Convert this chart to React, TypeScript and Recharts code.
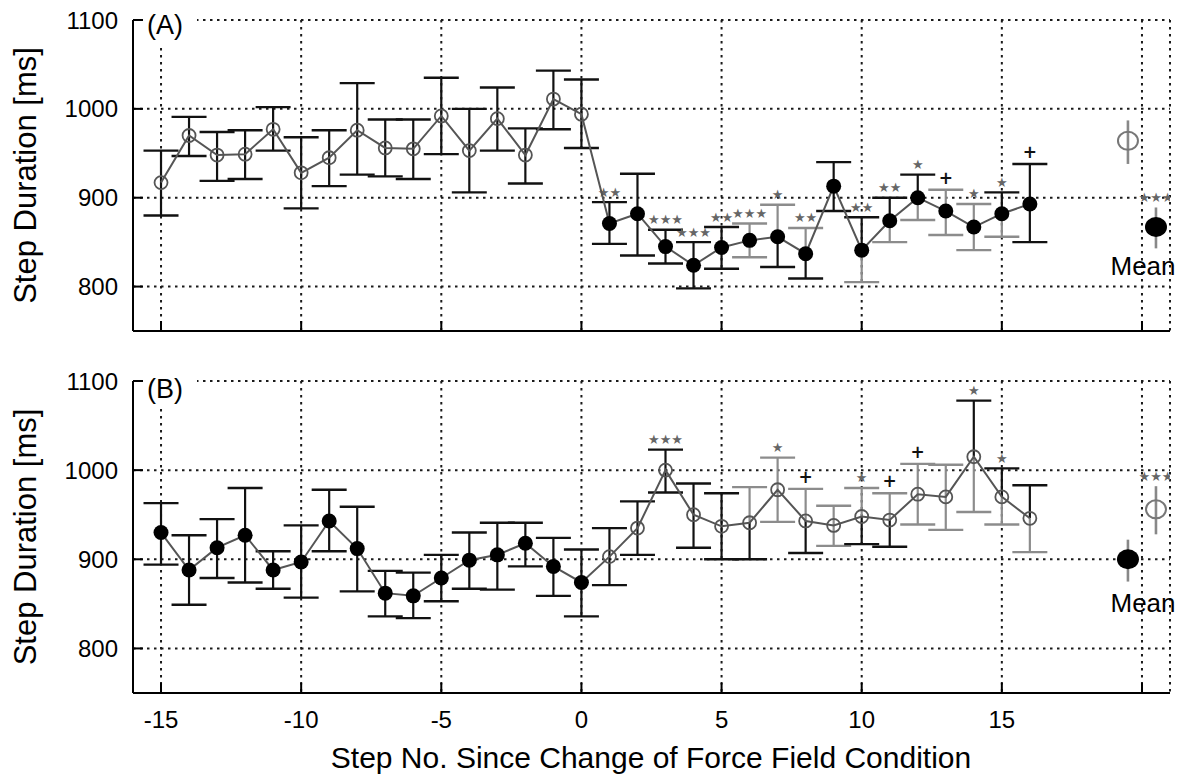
import React from 'react';
import { ComposedChart, Line, Bar, Scatter, XAxis, YAxis, CartesianGrid, Customized } from 'recharts';

// ---------- data ----------
const steps = [-15, -14, -13, -12, -11, -10, -9, -8, -7, -6, -5, -4, -3, -2, -1, 0, 1, 2, 3, 4, 5, 6, 7, 8, 9, 10, 11, 12, 13, 14, 15, 16];
const meanX = [19.5, 20.5];
const xTicks = [-15, -10, -5, 0, 5, 10, 15, 20];
const yTicks = [800, 900, 1000, 1100];

// Panel A
const valuesA = [917, 970, 948, 949, 977, 928, 945, 976, 956, 955, 992, 953, 989, 948, 1011, 994, 871, 882, 845, 824, 844, 852, 856, 837, 913, 841, 874, 900, 885, 867, 882, 893];
const upperA = [953, 991, 974, 976, 1002, 968, 976, 1029, 988, 988, 1035, 1000, 1024, 978, 1043, 1033, 895, 927, 864, 850, 867, 871, 892, 866, 940, 878, 900, 926, 909, 893, 906, 938];
const lowerA = [880, 947, 919, 921, 953, 888, 913, 926, 924, 921, 949, 906, 953, 916, 977, 956, 848, 835, 826, 798, 820, 833, 822, 809, 885, 805, 850, 875, 858, 841, 856, 850];
const sigA = ['', '', '', '', '', '', '', '', '', '', '', '', '', '', '', '', '**', '', '***', '***', '**', '***', '*', '**', '', '**', '**', '*', '+', '*', '*', '+'];
const upToneA = ['k', 'k', 'k', 'k', 'k', 'k', 'k', 'k', 'k', 'k', 'k', 'k', 'k', 'k', 'k', 'k', 'k', 'k', 'k', 'k', 'k', 'g', 'g', 'g', 'k', 'k', 'k', 'k', 'g', 'g', 'k', 'k'];
const loToneA = ['k', 'k', 'k', 'k', 'k', 'k', 'k', 'k', 'k', 'k', 'k', 'k', 'k', 'k', 'k', 'k', 'k', 'k', 'k', 'k', 'k', 'g', 'k', 'k', 'k', 'g', 'g', 'g', 'g', 'g', 'g', 'k'];
const meanValuesA = [964, 867];
const meanUpperA = [987, 889];
const meanLowerA = [938, 843];
const meanFilledA = [false, true];
const meanSigA = ['', '***'];

// Panel B
const valuesB = [930, 888, 913, 927, 888, 897, 943, 912, 862, 859, 879, 899, 905, 918, 892, 874, 903, 935, 1000, 950, 937, 941, 978, 943, 938, 948, 944, 973, 970, 1015, 970, 946];
const upperB = [963, 927, 945, 980, 909, 938, 978, 959, 887, 885, 905, 930, 941, 941, 924, 911, 935, 965, 1023, 985, 974, 981, 1014, 979, 960, 980, 974, 1007, 1006, 1078, 1002, 983];
const lowerB = [894, 849, 879, 874, 867, 857, 909, 864, 836, 834, 853, 867, 866, 892, 859, 836, 871, 905, 975, 913, 900, 900, 942, 907, 915, 917, 914, 939, 933, 953, 939, 908];
const sigB = ['', '', '', '', '', '', '', '', '', '', '', '', '', '', '', '', '', '', '***', '', '', '', '*', '+', '', '*', '+', '+', '', '*', '*', ''];
const upToneB = ['k', 'k', 'k', 'k', 'k', 'k', 'k', 'k', 'k', 'k', 'k', 'k', 'k', 'k', 'k', 'k', 'k', 'k', 'k', 'k', 'k', 'g', 'g', 'g', 'g', 'g', 'g', 'g', 'g', 'k', 'k', 'k'];
const loToneB = ['k', 'k', 'k', 'k', 'k', 'k', 'k', 'k', 'k', 'k', 'k', 'k', 'k', 'k', 'k', 'k', 'k', 'k', 'k', 'k', 'k', 'k', 'g', 'k', 'g', 'k', 'k', 'g', 'g', 'g', 'g', 'g'];
const meanValuesB = [900, 956];
const meanUpperB = [922, 982];
const meanLowerB = [875, 928];
const meanFilledB = [true, false];
const meanSigB = ['', '***'];

// condition: filled markers = force field condition
const filledA = steps.map((s) => s >= 1);
const filledB = steps.map((s) => s <= 0);

type Row = {
  x: number; v: number; line?: number; hi: number; lo: number;
  filled: boolean; sig: string; up: string; dn: string; mean: boolean;
};

function buildRows(
  values: number[], upper: number[], lower: number[], filled: boolean[], sig: string[],
  up: string[], dn: string[], mv: number[], mu: number[], ml: number[], mf: boolean[], ms: string[]
): Row[] {
  const rows: Row[] = steps.map((s, i) => ({
    x: s, v: values[i], line: values[i], hi: upper[i], lo: lower[i], filled: filled[i], sig: sig[i], up: up[i], dn: dn[i], mean: false,
  }));
  meanX.forEach((x, i) => {
    rows.push({ x, v: mv[i], line: undefined, hi: mu[i], lo: ml[i], filled: mf[i], sig: ms[i], up: 'g', dn: 'g', mean: true });
  });
  return rows;
}

const rowsA = buildRows(valuesA, upperA, lowerA, filledA, sigA, upToneA, loToneA, meanValuesA, meanUpperA, meanLowerA, meanFilledA, meanSigA);
const rowsB = buildRows(valuesB, upperB, lowerB, filledB, sigB, upToneB, loToneB, meanValuesB, meanUpperB, meanLowerB, meanFilledB, meanSigB);

// ---------- styles ----------
const FONT = '"Liberation Sans", Arial, Helvetica, sans-serif';
const BLACK = '#111';
const GRAY = '#8c8c8c';
const CAP = 17.5;

const toneColor = (t: string) => (t === 'g' ? GRAY : BLACK);

const ErrShape = (props: any) => {
  const { x, y, width, height, payload } = props;
  if (payload == null || x == null || y == null) return null;
  const cx = x + width / 2;
  const top = y;
  const bot = y + height;
  const span = payload.hi - payload.lo;
  const vy = span > 0 ? top + (height * (payload.hi - payload.v)) / span : top;
  const sig: string = payload.sig || '';
  const sigText = sig === '+' ? '+' : sig.replace(/\*/g, '\u2605');
  const sigEl = sig ? (
    <text
      x={cx}
      y={top - (sig === '+' ? 12 : 10)}
      textAnchor="middle"
      dominantBaseline="central"
      fontSize={sig === '+' ? 17 : 13}
      fontWeight={sig === '+' ? 'bold' : 'normal'}
      fill={sig === '+' ? '#111' : '#666'}
      fontFamily='"DejaVu Sans", sans-serif'
    >
      {sigText}
    </text>
  ) : null;
  if (payload.mean) {
    return (
      <g>
        <line x1={cx} x2={cx} y1={top} y2={bot} stroke="#888" strokeWidth={2.6} />
        {sigEl}
      </g>
    );
  }
  const uc = toneColor(payload.up);
  const dc = toneColor(payload.dn);
  return (
    <g>
      <line x1={cx} x2={cx} y1={top} y2={vy} stroke={uc} strokeWidth={2.2} />
      <line x1={cx - CAP} x2={cx + CAP} y1={top} y2={top} stroke={uc} strokeWidth={2.4} />
      <line x1={cx} x2={cx} y1={vy} y2={bot} stroke={dc} strokeWidth={2.2} />
      <line x1={cx - CAP} x2={cx + CAP} y1={bot} y2={bot} stroke={dc} strokeWidth={2.4} />
      {sigEl}
    </g>
  );
};

const Marker = (props: any) => {
  const { cx, cy, payload } = props;
  if (cx == null || cy == null || payload == null) return null;
  if (payload.mean) {
    return payload.filled ? (
      <ellipse cx={cx} cy={cy} rx={11} ry={10} fill="#000" />
    ) : (
      <ellipse cx={cx} cy={cy} rx={10} ry={9} fill="none" stroke="#777" strokeWidth={2} />
    );
  }
  return payload.filled ? (
    <circle cx={cx} cy={cy} r={7.5} fill="#000" />
  ) : (
    <circle cx={cx} cy={cy} r={6.5} fill="none" stroke="#555" strokeWidth={1.8} />
  );
};

const tickStyle = { fontSize: 24, fill: '#000', fontFamily: FONT };

type PanelProps = {
  rows: Row[];
  height: number;
  marginTop: number;
  xAxisHeight: number;
  showXLabels: boolean;
  letter: string;
  letterY: number;
  boxY: number;
  meanY: number;
  xTitle?: boolean;
};

const Panel = ({ rows, height, marginTop, xAxisHeight, showXLabels, letter, letterY, boxY, meanY, xTitle }: PanelProps) => {
  const plotTop = marginTop;
  const plotBottom = height - xAxisHeight;
  const midY = (plotTop + plotBottom) / 2;
  const overlay = () => (
    <g>
      <rect x={145} y={boxY} width={52} height={34} fill="#fff" />
      <text x={147} y={letterY} fontSize={27} fontFamily={FONT} fill="#000">{letter}</text>
      <text x={1143} y={meanY} fontSize={26} fontFamily={FONT} fill="#000" textAnchor="middle">Mean</text>
      <text
        x={36}
        y={midY}
        transform={`rotate(-90 36 ${midY})`}
        fontSize={31}
        fontFamily={FONT}
        fill="#000"
        textAnchor="middle"
      >
        Step Duration [ms]
      </text>
      {xTitle ? (
        <text x={651} y={height - 7} fontSize={30} fontFamily={FONT} fill="#000" textAnchor="middle">
          Step No. Since Change of Force Field Condition
        </text>
      ) : null}
    </g>
  );
  return (
    <ComposedChart width={1186} height={height} data={rows} margin={{ top: marginTop, right: 16, bottom: 0, left: 0 }}>
      <CartesianGrid stroke="#1a1a1a" strokeWidth={2} strokeDasharray="2.5 4.5" />
      <XAxis
        type="number"
        dataKey="x"
        domain={[-16, 21]}
        allowDataOverflow
        ticks={xTicks}
        interval={0}
        height={xAxisHeight}
        tickSize={-10}
        tickMargin={28}
        tick={tickStyle}
        tickLine={{ stroke: '#000', strokeWidth: 2 }}
        axisLine={{ stroke: '#000', strokeWidth: 2 }}
        tickFormatter={(v: number) => (showXLabels && v !== 20 ? String(v) : '')}
      />
      <YAxis
        type="number"
        domain={[750, 1100]}
        allowDataOverflow
        ticks={yTicks}
        interval={0}
        width={133}
        tickSize={-10}
        tickMargin={25}
        tick={tickStyle}
        tickLine={{ stroke: '#000', strokeWidth: 2 }}
        axisLine={{ stroke: '#000', strokeWidth: 2 }}
      />
      <Customized component={overlay} />
      <Bar dataKey={(d: Row) => [d.lo, d.hi]} barSize={4} shape={ErrShape} isAnimationActive={false} fill="none" />
      <Line dataKey="line" stroke="#555" strokeWidth={2} dot={false} activeDot={false} isAnimationActive={false} connectNulls={false} />
      <Scatter dataKey="v" shape={Marker} isAnimationActive={false} />
    </ComposedChart>
  );
};

export default function App() {
  return (
    <div style={{ position: 'absolute', left: 0, top: 0, width: 1186, height: 775, background: '#fff', fontFamily: FONT }}>
      <Panel rows={rowsA} height={360} marginTop={20} xAxisHeight={29} showXLabels={false} letter="(A)" letterY={34} boxY={11} meanY={275} />
      <Panel rows={rowsB} height={415} marginTop={21} xAxisHeight={82} showXLabels letter="(B)" letterY={38} boxY={12} meanY={252} xTitle />
    </div>
  );
}
